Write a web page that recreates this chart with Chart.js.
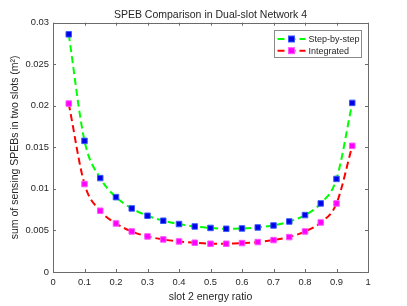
<!DOCTYPE html>
<html>
<head>
<meta charset="utf-8">
<script src="https://cdn.jsdelivr.net/npm/chart.js@4.4.1/dist/chart.umd.min.js"></script>
<style>
  html, body { margin: 0; padding: 0; background: #fff; }
  canvas { display: block; }
</style>
</head>
<body>
<canvas id="speb" width="407" height="306"></canvas>
<script>
// values
const energyRatio = [0.05, 0.1, 0.15, 0.2, 0.25, 0.3, 0.35, 0.4, 0.45, 0.5,
                     0.55, 0.6, 0.65, 0.7, 0.75, 0.8, 0.85, 0.9, 0.95];
const stepByStep = [0.0286, 0.01578, 0.0113, 0.00901, 0.00765, 0.00677, 0.00617, 0.00577, 0.00548, 0.0053,
                    0.0052, 0.00524, 0.00536, 0.0056, 0.00608, 0.00685, 0.00825, 0.0112, 0.02035];
const integrated = [0.02027, 0.01058, 0.00737, 0.00584, 0.00488, 0.00428, 0.00392, 0.00368, 0.00352, 0.0034,
                    0.0034, 0.00348, 0.0036, 0.00384, 0.0042, 0.00488, 0.00596, 0.00825, 0.01518];
const xTicks = [0, 0.1, 0.2, 0.3, 0.4, 0.5, 0.6, 0.7, 0.8, 0.9, 1];
const yTicks = [0, 0.005, 0.01, 0.015, 0.02, 0.025, 0.03];

const FONT = "'Liberation Sans', Arial, Helvetica, sans-serif";
const TEXT = "#262626";
const AXIS = "#6b6b6b";

const toPoints = (ys) => ys.map((y, i) => ({ x: energyRatio[i], y: y }));

// box around the axes plus inward ticks on all four sides (matlab look)
const boxPlugin = {
  id: "box",
  beforeDatasetsDraw(chart) {
    const { ctx, chartArea: a, scales } = chart;
    ctx.save();
    ctx.strokeStyle = AXIS;
    ctx.lineWidth = 1;
    ctx.strokeRect(Math.round(a.left) + 0.5, Math.round(a.top) + 0.5,
      Math.round(a.right - a.left), Math.round(a.bottom - a.top));
    ctx.beginPath();
    scales.x.ticks.forEach((t) => {
      const px = Math.round(scales.x.getPixelForValue(t.value)) + 0.5;
      ctx.moveTo(px, a.bottom); ctx.lineTo(px, a.bottom - 3);
      ctx.moveTo(px, a.top); ctx.lineTo(px, a.top + 3);
    });
    scales.y.ticks.forEach((t) => {
      const py = Math.round(scales.y.getPixelForValue(t.value)) + 0.5;
      ctx.moveTo(a.left, py); ctx.lineTo(a.left + 3, py);
      ctx.moveTo(a.right, py); ctx.lineTo(a.right - 3, py);
    });
    ctx.stroke();
    ctx.restore();
  }
};

// legend box in the top right corner of the plot
const legendPlugin = {
  id: "boxLegend",
  afterDatasetsDraw(chart) {
    const { ctx, chartArea: a } = chart;
    const w = 87, h = 27;
    const x0 = Math.round(a.right - 7 - w) + 0.5, y0 = Math.round(a.top + 7) + 0.5;
    ctx.save();
    ctx.fillStyle = "#fff";
    ctx.strokeStyle = "#8a8a8a";
    ctx.lineWidth = 1;
    ctx.fillRect(x0, y0, w, h);
    ctx.strokeRect(x0, y0, w, h);
    chart.data.datasets.forEach((ds, i) => {
      const cy = y0 + 8.5 + i * 11.7;
      ctx.strokeStyle = ds.borderColor;
      ctx.lineWidth = 2;
      ctx.setLineDash(ds.borderDash);
      ctx.beginPath();
      ctx.moveTo(x0 + 3, cy);
      ctx.lineTo(x0 + 31, cy);
      ctx.stroke();
      ctx.setLineDash([]);
      ctx.fillStyle = ds.pointBackgroundColor;
      ctx.strokeStyle = ds.pointBorderColor;
      ctx.lineWidth = 1;
      ctx.fillRect(x0 + 14, cy - 3, 6, 6);
      ctx.strokeRect(x0 + 14, cy - 3, 6, 6);
      ctx.fillStyle = TEXT;
      ctx.font = "9px " + FONT;
      ctx.textBaseline = "middle";
      ctx.fillText(ds.label, x0 + 34, cy + 0.5);
    });
    ctx.restore();
  }
};

new Chart(document.getElementById("speb").getContext("2d"), {
  type: "line",
  data: {
    datasets: [
      {
        label: "Step-by-step",
        data: toPoints(stepByStep),
        borderColor: "#00ff00",
        borderWidth: 2,
        borderDash: [7, 4],
        cubicInterpolationMode: "monotone",
        pointStyle: "rect",
        pointRadius: 3.9,
        pointBackgroundColor: "#0000e6",
        pointBorderColor: "#3a5cff",
        pointBorderWidth: 1,
        fill: false,
      },
      {
        label: "Integrated",
        data: toPoints(integrated),
        borderColor: "#ff0000",
        borderWidth: 2,
        borderDash: [7, 4],
        cubicInterpolationMode: "monotone",
        pointStyle: "rect",
        pointRadius: 3.9,
        pointBackgroundColor: "#ff00ff",
        pointBorderColor: "#ff55ff",
        pointBorderWidth: 1,
        fill: false,
      },
    ],
  },
  options: {
    responsive: false,
    animation: false,
    layout: { padding: { left: 0, right: 39, top: 0, bottom: 0 } },
    plugins: {
      legend: { display: false },
      tooltip: { enabled: false },
      title: {
        display: true,
        fullSize: false,
        text: "SPEB Comparison in Dual-slot Network 4",
        color: TEXT,
        font: { family: FONT, size: 10.5, weight: "normal", lineHeight: 1.2 },
        padding: { top: 8.5, bottom: 1.6 },
      },
    },
    scales: {
      x: {
        type: "linear",
        min: 0,
        max: 1,
        afterBuildTicks: (s) => { s.ticks = xTicks.map((v) => ({ value: v })); },
        afterFit: (s) => { s.height = 34; },
        grid: { display: false, drawTicks: false },
        border: { display: false },
        ticks: {
          color: TEXT,
          font: { family: FONT, size: 9.4 },
          padding: 5,
          maxRotation: 0,
          callback: (v) => String(v),
        },
        title: {
          display: true,
          text: "slot 2 energy ratio",
          color: TEXT,
          font: { family: FONT, size: 10.5, lineHeight: 1.2 },
          padding: { top: 0, bottom: 2.7 },
        },
      },
      y: {
        type: "linear",
        min: 0,
        max: 0.03,
        afterBuildTicks: (s) => { s.ticks = yTicks.map((v) => ({ value: v })); },
        afterFit: (s) => { s.width = 53; },
        grid: { display: false, drawTicks: false },
        border: { display: false },
        ticks: {
          color: TEXT,
          font: { family: FONT, size: 9.4 },
          padding: 4,
          callback: (v) => String(v),
        },
        title: {
          display: true,
          text: "sum of sensing SPEBs in two slots (m²)",
          color: TEXT,
          font: { family: FONT, size: 10.5, lineHeight: 1.2 },
          padding: { top: 9, bottom: 0 },
        },
      },
    },
  },
  plugins: [boxPlugin, legendPlugin],
});
</script>
</body>
</html>
